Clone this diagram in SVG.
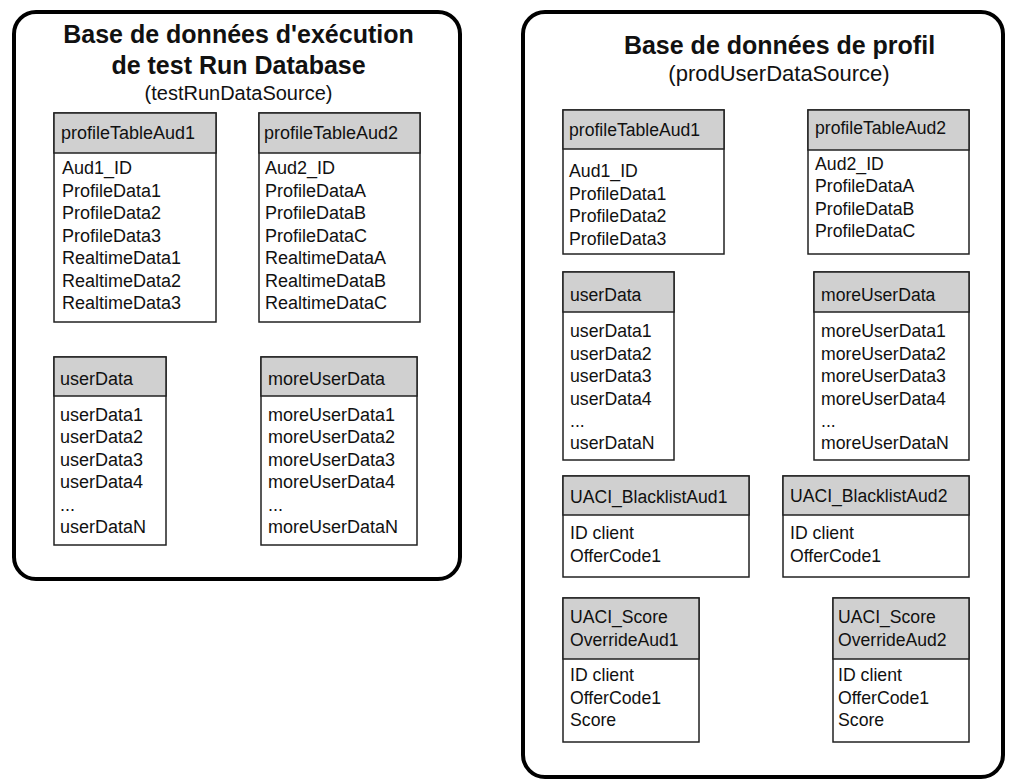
<svg xmlns="http://www.w3.org/2000/svg" width="1009" height="783" viewBox="0 0 1009 783">
<style>
.cont{fill:#fff;stroke:#000;stroke-width:4}
.box{fill:#fff;stroke:#222;stroke-width:1.5}
.hdr{fill:#d0d0d0;stroke:#222;stroke-width:1.5}
text{font-family:"Liberation Sans",Arial,sans-serif;fill:#111}
.title{font-size:25px;font-weight:bold;text-anchor:middle}
.subL{font-size:20px;text-anchor:middle}
.subR{font-size:22px;text-anchor:middle}
.h{font-size:18px}
.r{font-size:18px}
.hR{font-size:17.6px}
.rR{font-size:17.7px}
</style>
<rect width="1009" height="783" fill="#fff"/>

<g id="testRunDB">
<rect class="cont" x="14" y="12" width="446" height="567" rx="22"/>
<text class="title" x="238.5" y="43">Base de données d'exécution</text>
<text class="title" x="238.5" y="74">de test Run Database</text>
<text class="subL" x="238.5" y="100">(testRunDataSource)</text>
</g>

<g id="L_profileTableAud1">
<rect class="box" x="54" y="113" width="162" height="209"/>
<rect class="hdr" x="54" y="113" width="162" height="40"/>
<text class="h" x="61" y="139">profileTableAud1</text>
<text class="r" x="62"><tspan x="62" y="174">Aud1_ID</tspan><tspan x="62" y="196.5">ProfileData1</tspan><tspan x="62" y="219">ProfileData2</tspan><tspan x="62" y="241.5">ProfileData3</tspan><tspan x="62" y="264">RealtimeData1</tspan><tspan x="62" y="286.5">RealtimeData2</tspan><tspan x="62" y="309">RealtimeData3</tspan></text>
</g>

<g id="L_profileTableAud2">
<rect class="box" x="259" y="113" width="161" height="209"/>
<rect class="hdr" x="259" y="113" width="161" height="40"/>
<text class="h" x="264" y="139">profileTableAud2</text>
<text class="r"><tspan x="265" y="174">Aud2_ID</tspan><tspan x="265" y="196.5">ProfileDataA</tspan><tspan x="265" y="219">ProfileDataB</tspan><tspan x="265" y="241.5">ProfileDataC</tspan><tspan x="265" y="264">RealtimeDataA</tspan><tspan x="265" y="286.5">RealtimeDataB</tspan><tspan x="265" y="309">RealtimeDataC</tspan></text>
</g>

<g id="L_userData">
<rect class="box" x="54" y="357" width="112" height="188"/>
<rect class="hdr" x="54" y="357" width="112" height="39"/>
<text class="h" x="60" y="385">userData</text>
<text class="r"><tspan x="60" y="421">userData1</tspan><tspan x="60" y="443">userData2</tspan><tspan x="60" y="465.5">userData3</tspan><tspan x="60" y="488">userData4</tspan><tspan x="60" y="510.5">...</tspan><tspan x="60" y="533">userDataN</tspan></text>
</g>

<g id="L_moreUserData">
<rect class="box" x="261" y="357" width="156" height="188"/>
<rect class="hdr" x="261" y="357" width="156" height="39"/>
<text class="h" x="268" y="385">moreUserData</text>
<text class="r"><tspan x="268" y="421">moreUserData1</tspan><tspan x="268" y="443">moreUserData2</tspan><tspan x="268" y="465.5">moreUserData3</tspan><tspan x="268" y="488">moreUserData4</tspan><tspan x="268" y="510.5">...</tspan><tspan x="268" y="533">moreUserDataN</tspan></text>
</g>

<g id="profileDB">
<rect class="cont" x="523" y="12" width="480" height="765" rx="22"/>
<text class="title" x="779.5" y="54">Base de données de profil</text>
<text class="subR" x="779" y="81">(prodUserDataSource)</text>
</g>

<g id="R_profileTableAud1">
<rect class="box" x="563" y="110" width="161" height="144"/>
<rect class="hdr" x="563" y="110" width="161" height="39"/>
<text class="hR" x="569" y="136">profileTableAud1</text>
<text class="rR"><tspan x="569" y="177">Aud1_ID</tspan><tspan x="569" y="199.5">ProfileData1</tspan><tspan x="569" y="222">ProfileData2</tspan><tspan x="569" y="244.5">ProfileData3</tspan></text>
</g>

<g id="R_profileTableAud2">
<rect class="box" x="808" y="110" width="161" height="144"/>
<rect class="hdr" x="808" y="110" width="161" height="40"/>
<text class="hR" x="815" y="134">profileTableAud2</text>
<text class="rR"><tspan x="815" y="169.5">Aud2_ID</tspan><tspan x="815" y="192">ProfileDataA</tspan><tspan x="815" y="214.5">ProfileDataB</tspan><tspan x="815" y="237">ProfileDataC</tspan></text>
</g>

<g id="R_userData">
<rect class="box" x="563" y="272" width="111" height="188"/>
<rect class="hdr" x="563" y="272" width="111" height="40"/>
<text class="hR" x="570" y="301">userData</text>
<text class="rR"><tspan x="570" y="337">userData1</tspan><tspan x="570" y="359.5">userData2</tspan><tspan x="570" y="382">userData3</tspan><tspan x="570" y="404.5">userData4</tspan><tspan x="570" y="427">...</tspan><tspan x="570" y="449">userDataN</tspan></text>
</g>

<g id="R_moreUserData">
<rect class="box" x="814" y="272" width="155" height="188"/>
<rect class="hdr" x="814" y="272" width="155" height="40"/>
<text class="hR" x="821" y="301">moreUserData</text>
<text class="rR"><tspan x="821" y="337">moreUserData1</tspan><tspan x="821" y="359.5">moreUserData2</tspan><tspan x="821" y="382">moreUserData3</tspan><tspan x="821" y="404.5">moreUserData4</tspan><tspan x="821" y="427">...</tspan><tspan x="821" y="449">moreUserDataN</tspan></text>
</g>

<g id="R_BlacklistAud1">
<rect class="box" x="563" y="476" width="186" height="101"/>
<rect class="hdr" x="563" y="476" width="186" height="39"/>
<text class="hR" x="570" y="503">UACI_BlacklistAud1</text>
<text class="rR"><tspan x="570" y="539">ID client</tspan><tspan x="570" y="562">OfferCode1</tspan></text>
</g>

<g id="R_BlacklistAud2">
<rect class="box" x="783" y="476" width="186" height="101"/>
<rect class="hdr" x="783" y="476" width="186" height="39"/>
<text class="hR" x="790" y="502">UACI_BlacklistAud2</text>
<text class="rR"><tspan x="790" y="539">ID client</tspan><tspan x="790" y="562">OfferCode1</tspan></text>
</g>

<g id="R_ScoreOverrideAud1">
<rect class="box" x="563" y="598" width="136" height="144"/>
<rect class="hdr" x="563" y="598" width="136" height="61"/>
<text class="hR"><tspan x="570" y="623">UACI_Score</tspan><tspan x="570" y="646">OverrideAud1</tspan></text>
<text class="rR"><tspan x="570" y="681">ID client</tspan><tspan x="570" y="703.5">OfferCode1</tspan><tspan x="570" y="726">Score</tspan></text>
</g>

<g id="R_ScoreOverrideAud2">
<rect class="box" x="833" y="598" width="136" height="144"/>
<rect class="hdr" x="833" y="598" width="136" height="61"/>
<text class="hR"><tspan x="838" y="623">UACI_Score</tspan><tspan x="838" y="646">OverrideAud2</tspan></text>
<text class="rR"><tspan x="838" y="681">ID client</tspan><tspan x="838" y="703.5">OfferCode1</tspan><tspan x="838" y="726">Score</tspan></text>
</g>

<g id="connectors"></g>
</svg>
